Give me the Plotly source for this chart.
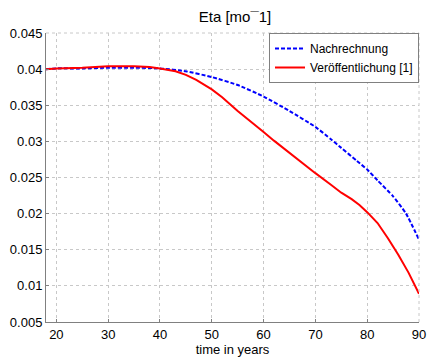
import plotly.graph_objects as go

years_blue = [18, 20, 25, 30, 35, 40, 45, 50, 55, 60, 65, 70, 73, 75, 78, 80, 82, 85, 87.5, 90]
eta_nachrechnung = [0.0400, 0.0401, 0.0401, 0.0402, 0.0402, 0.0401, 0.0397, 0.0389, 0.0378,
                    0.0362, 0.0342, 0.0320, 0.0303, 0.0291, 0.0273, 0.0261, 0.0246, 0.0224,
                    0.0200, 0.0164]

years_red = [18, 20, 25, 30, 35, 38, 40, 43, 45, 47, 50, 52, 55, 58, 60, 62, 65, 68, 70,
             73, 75, 77, 78.5, 80, 82, 84, 86, 88, 90]
eta_veroeff = [0.0400, 0.0401, 0.0402, 0.0404, 0.0404, 0.0403, 0.0401, 0.0397, 0.0392, 0.0385,
               0.0372, 0.0361, 0.0342, 0.0325, 0.0313, 0.0301, 0.0284, 0.0268, 0.0256,
               0.0240, 0.0229, 0.0220, 0.0212, 0.0202, 0.0187, 0.0166, 0.0143, 0.0118, 0.0089]

x_ticks = [20, 30, 40, 50, 60, 70, 80, 90]
y_ticks = [0.005, 0.01, 0.015, 0.02, 0.025, 0.03, 0.035, 0.04, 0.045]
y_tick_labels = ["0.005", "0.01", "0.015", "0.02", "0.025", "0.03", "0.035", "0.04", "0.045"]

fig = go.Figure()
fig.add_trace(go.Scatter(x=years_blue, y=eta_nachrechnung, mode="lines", name="Nachrechnung",
                         line=dict(color="#0000ff", width=2, dash="4px,2px", shape="spline", smoothing=0.5)))
fig.add_trace(go.Scatter(x=years_red, y=eta_veroeff, mode="lines", name="Veröffentlichung [1]",
                         line=dict(color="#ff0000", width=2)))

font_family = "Liberation Sans, Arial, sans-serif"
grid_color = "#c8c8c8"
fig.update_layout(
    width=436, height=361,
    margin=dict(l=44, r=10, t=33, b=33),
    paper_bgcolor="white", plot_bgcolor="white",
    font=dict(family=font_family, size=13, color="#000000"),
    title=dict(text="Eta [mo¯1]", x=(44 + 191) / 436, xanchor="center", y=1 - 17 / 361, yanchor="middle",
               font=dict(size=15, family=font_family)),
    showlegend=True,
    legend=dict(x=1.0, xanchor="right", y=1.0, yanchor="top", bgcolor="white",
                bordercolor="#808080", borderwidth=1, font=dict(size=12),
                tracegroupgap=0, itemwidth=30),
    xaxis=dict(range=[18, 90], tickvals=x_ticks, showgrid=True, gridcolor=grid_color,
               griddash="dot", gridwidth=1, showline=True, linecolor="#808080", linewidth=1,
               ticks="inside", ticklen=3, tickcolor="#808080", zeroline=False,
               tickfont=dict(size=13),
               title=dict(text="time in years", standoff=0, font=dict(size=13))),
    yaxis=dict(range=[0.005, 0.045], tickvals=y_ticks, ticktext=y_tick_labels, showgrid=True,
               gridcolor=grid_color, griddash="dot", gridwidth=1, showline=True,
               linecolor="#808080", linewidth=1, ticks="inside", ticklen=3, tickcolor="#808080",
               zeroline=False, tickfont=dict(size=13)),
)
# dotted top/right border like MATLAB grid
fig.add_shape(type="line", xref="paper", yref="paper", x0=0, x1=1, y0=1, y1=1,
              line=dict(color=grid_color, width=1, dash="dot"))
fig.add_shape(type="line", xref="paper", yref="paper", x0=1, x1=1, y0=0, y1=1,
              line=dict(color=grid_color, width=1, dash="dot"))

fig.write_html("out.html")
